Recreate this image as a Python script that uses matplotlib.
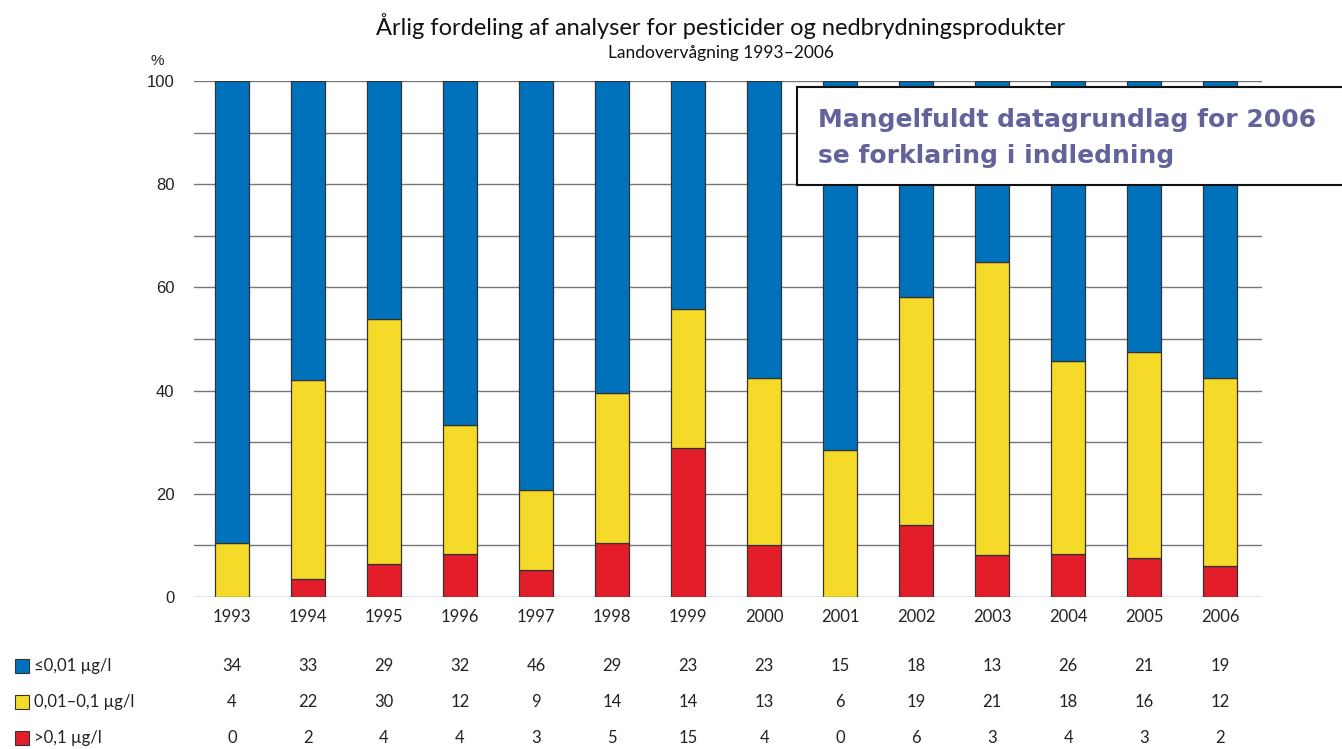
import numpy as np
import matplotlib.pyplot as plt
from matplotlib.patches import Rectangle

years = [1993, 1994, 1995, 1996, 1997, 1998, 1999, 2000, 2001, 2002, 2003, 2004, 2005, 2006]
low = [34, 33, 29, 32, 46, 29, 23, 23, 15, 18, 13, 26, 21, 19]
mid = [4, 22, 30, 12, 9, 14, 14, 13, 6, 19, 21, 18, 16, 12]
high = [0, 2, 4, 4, 3, 5, 15, 4, 0, 6, 3, 4, 3, 2]
labels = ["≤0,01 µg/l", "0,01–0,1 µg/l", ">0,1 µg/l"]
colors = ["#0072BC", "#F5DA2A", "#E31E2A"]

low_a, mid_a, high_a = np.array(low), np.array(mid), np.array(high)
total = low_a + mid_a + high_a
p_high = high_a / total * 100
p_mid = mid_a / total * 100
p_low = low_a / total * 100

fig = plt.figure(figsize=(13.42, 7.49), dpi=100)
ax = fig.add_axes([194 / 1342, 1 - 597 / 749, (1262 - 194) / 1342, (597 - 81) / 749])

x = np.arange(len(years))
w = 0.45
edge = dict(edgecolor="#333333", linewidth=0.9, zorder=3)
ax.bar(x, p_high, w, color=colors[2], **edge)
ax.bar(x, p_mid, w, bottom=p_high, color=colors[1], **edge)
ax.bar(x, p_low, w, bottom=p_high + p_mid, color=colors[0], **edge)

for yv in range(0, 101, 10):
    ax.axhline(yv, color="#777777", linewidth=1.0, zorder=1)

ax.set_xlim(-0.5, 13.55)
ax.set_ylim(0, 100)
for s in ax.spines.values():
    s.set_visible(False)
ax.set_yticks(range(0, 101, 20))
ax.set_yticklabels([str(v) for v in range(0, 101, 20)], fontsize=12, family="Liberation Sans", color="#222222")
ax.set_xticks(x)
ax.set_xticklabels([str(y) for y in years], fontsize=12, family="Lato", color="#222222")
ax.tick_params(length=0, pad=9)
ax.tick_params(axis="y", pad=14)
ax.text(-0.034, 1.025, "%", transform=ax.transAxes, fontsize=11, family="Liberation Sans",
        ha="center", va="bottom", color="#222222")

fig.text(0.537, 0.965, "Årlig fordeling af analyser for pesticider og nedbrydningsprodukter",
         ha="center", va="center", fontsize=17, family="Lato", color="#111111")
fig.text(0.537, 0.929, "Landovervågning 1993–2006", ha="center", va="center",
         fontsize=12.5, family="Lato", color="#111111")

# table of counts below the chart
rows = [low, mid, high]
row_y = [666, 702, 738]
for i, (vals, yp) in enumerate(zip(rows, row_y)):
    yf = 1 - yp / 749
    fig.patches.append(Rectangle((15 / 1342, yf - 7 / 749), 14 / 1342, 14 / 749,
                                 transform=fig.transFigure, facecolor=colors[i],
                                 edgecolor="#333333", linewidth=0.8))
    fig.text(34 / 1342, yf, labels[i], ha="left", va="center", fontsize=12,
             family="Lato", color="#222222")
    for xi, v in zip(x, vals):
        xd = ax.transData.transform((xi, 0))[0]
        fig.text(xd / 1342, yf, str(v), ha="center", va="center", fontsize=12,
                 family="Lato", color="#222222")

# note box
fig.patches.append(Rectangle((797 / 1342, 1 - 185 / 749), 560 / 1342, 98 / 749,
                             transform=fig.transFigure, facecolor="white",
                             edgecolor="#111111", linewidth=1.5, zorder=5))
fig.text(818 / 1342, 1 - 120 / 749, "Mangelfuldt datagrundlag for 2006",
         ha="left", va="center", fontsize=18, fontweight="bold",
         family="DejaVu Sans", color="#62639B", zorder=6)
fig.text(818 / 1342, 1 - 156 / 749, "se forklaring i indledning",
         ha="left", va="center", fontsize=18, fontweight="bold",
         family="DejaVu Sans", color="#62639B", zorder=6)

fig.savefig("out.png", dpi=100)
